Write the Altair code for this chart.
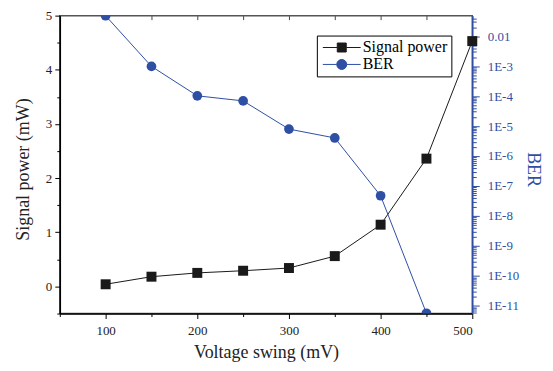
import altair as alt
import pandas as pd

voltage = [100, 150, 200, 250, 300, 350, 400, 450, 500]
signal_power = [0.04, 0.18, 0.25, 0.29, 0.34, 0.56, 1.14, 2.36, 4.53]
ber_voltage = [100, 150, 200, 250, 300, 350, 400, 450]
ber = [4.8e-2, 9.8e-4, 1.02e-4, 6.9e-5, 7.9e-6, 4.0e-6, 4.7e-8, 5.6e-12]
series = ["Signal power", "BER"]

BLACK = "#1a1a1a"
BLUE = "#2f4fa5"
FONT = "Liberation Serif"

power_df = pd.DataFrame({"v": voltage, "p": signal_power})
ber_df = pd.DataFrame({"v": ber_voltage, "b": ber})
legend_df = pd.DataFrame({"s": series})

x_ticks = list(range(50, 501, 50))
y_ticks = [-0.5 + 0.5 * i for i in range(12)]
ber_ticks = []
for e in range(-12, -1):
    for m in range(1, 10):
        val = float(f"{m}e{e}")
        if 5.5e-12 <= val <= 0.0485:
            ber_ticks.append(val)

x_scale = alt.Scale(domain=[50, 500], nice=False, zero=False)

x_bottom = alt.X(
    "v:Q", scale=x_scale,
    axis=alt.Axis(
        orient="bottom", values=x_ticks, title="Voltage swing (mV)", format="d",
        labelExpr="datum.value % 100 == 0 ? datum.label : ''",
        tickSize={"condition": {"test": "datum.value % 100 == 0", "value": 5}, "value": 3},
        labelPadding=6, titlePadding=6, grid=False,
        domainColor="black", domainWidth=1.5, tickColor="black",
        labelColor="#222", titleColor="#222",
        labelFontSize=13, titleFontSize=18,
        labelFont=FONT, titleFont=FONT, titleFontWeight="normal",
    ),
)
y_left = alt.Y(
    "p:Q", scale=alt.Scale(domain=[-0.5, 5], nice=False, zero=False),
    axis=alt.Axis(
        orient="left", values=y_ticks, title="Signal power (mW)", format=".0f",
        labelExpr="datum.value % 1 == 0 ? datum.label : ''",
        tickSize={"condition": {"test": "datum.value % 1 == 0", "value": 5}, "value": 3},
        labelPadding=3, titlePadding=13, grid=False, titleY=154,
        domainColor="black", domainWidth=1.5, tickColor="black",
        labelColor="#222", titleColor="#222",
        labelFontSize=13, titleFontSize=18,
        labelFont=FONT, titleFont=FONT, titleFontWeight="normal",
    ),
)

power_line = alt.Chart(power_df).mark_line(color=BLACK, strokeWidth=1).encode(x=x_bottom, y=y_left)
power_pts = alt.Chart(power_df).mark_point(
    shape="square", filled=True, size=100, color=BLACK, opacity=1
).encode(x=x_bottom, y=y_left)
power_layer = alt.layer(power_line, power_pts)

x_top = alt.X(
    "v:Q", scale=x_scale,
    axis=alt.Axis(
        orient="top", values=x_ticks, title=None, labels=False, domain=False,
        tickSize=4, offset=-4, tickColor="#444", tickWidth=1, grid=False,
    ),
)
decade_test = "abs(log(datum.value)/LN10 - round(log(datum.value)/LN10)) < 0.001"
y_right = alt.Y(
    "b:Q", scale=alt.Scale(type="log", domain=[5.5e-12, 0.0485], nice=False),
    axis=alt.Axis(
        orient="right", values=ber_ticks, title="BER",
        labelExpr=(
            decade_test + " ? "
            "(datum.value > 0.005 ? '0.01' : '1E' + round(log(datum.value)/LN10)) : ''"
        ),
        tickSize={"condition": {"test": decade_test, "value": 7}, "value": 4},
        labelPadding=8, titlePadding=5, grid=False, titleY=154,
        domainColor=BLUE, domainWidth=1.5, tickColor=BLUE,
        labelColor=BLUE, titleColor=BLUE,
        labelFontSize=13, titleFontSize=18, labelFlush=False,
        labelFont=FONT, titleFont=FONT, titleFontWeight="normal",
    ),
)
ber_line = alt.Chart(ber_df).mark_line(color=BLUE, strokeWidth=1, clip=True).encode(x=x_top, y=y_right)
ber_pts = alt.Chart(ber_df).mark_point(
    shape="circle", filled=True, size=95, color=BLUE, opacity=1, clip=True
).encode(x=x_top, y=y_right)
ber_layer = alt.layer(ber_line, ber_pts)

sq_path = "M-3.8,0H-0.9M0.9,0H3.8M-0.9,-0.9H0.9V0.9H-0.9Z"
ci_path = "M-3.8,0H-1M1,0H3.8M1,0A1,1 0 1 1 -1,0A1,1 0 1 1 1,0Z"
leg = alt.Legend(
    title=None, orient="none", legendX=258, legendY=20,
    strokeColor="black", fillColor="white", padding=4,
    symbolSize=100, symbolStrokeWidth=1, labelFont=FONT, labelFontSize=16,
    labelColor="black", rowPadding=1, labelOffset=13, symbolOffset=13,
    symbolOpacity=1,
)
legend_layer = alt.Chart(legend_df).transform_filter("false").mark_point(filled=True, opacity=1).encode(
    fill=alt.Fill("s:N", scale=alt.Scale(domain=series, range=[BLACK, BLUE]), legend=leg),
    stroke=alt.Stroke("s:N", scale=alt.Scale(domain=series, range=[BLACK, BLUE]), legend=leg),
    shape=alt.Shape("s:N", scale=alt.Scale(domain=series, range=[sq_path, ci_path]), legend=leg),
)

chart = alt.layer(power_layer, ber_layer, legend_layer).resolve_scale(
    x="independent", y="independent"
).properties(
    width=414, height=299,
    autosize=alt.AutoSizeParams(type="none"),
    padding={"left": 52, "top": 7, "right": 73, "bottom": 48},
    background="white",
).configure_view(
    stroke="#555", strokeWidth=1.5
).configure_axis(
    labelFont=FONT, titleFont=FONT, titleFontWeight="normal"
)

chart.save("out.html", embed_options={"renderer": "svg", "actions": False})
